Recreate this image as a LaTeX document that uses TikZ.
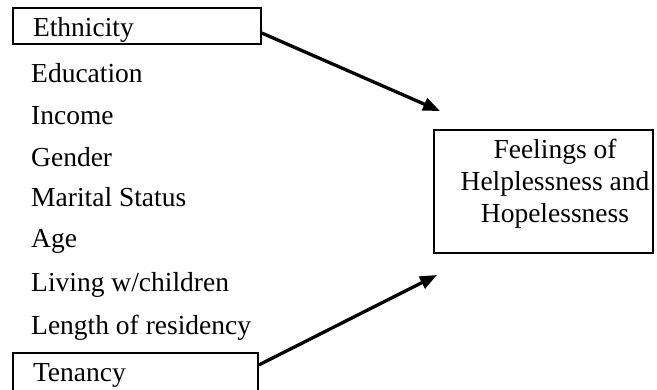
\documentclass[tikz,border=0pt]{standalone}
\usepackage{fontspec}
\setmainfont{Liberation Serif}
\usetikzlibrary{arrows.meta}
\begin{document}
\begin{tikzpicture}[x=1pt,y=-1pt,
  every node/.style={font=\fontsize{27.5}{32}\selectfont},
  item/.style={anchor=base west, inner sep=0pt},
  varbox/.style={draw, line width=1.5pt, inner xsep=20pt, inner ysep=0pt,
    align=left, text depth=0pt},
  outbox/.style={draw, line width=1.6pt, minimum width=219pt, minimum height=123pt, inner sep=0pt},
  arr/.style={line width=3.3pt, -{Triangle[length=17pt,width=13pt]}}
]
\useasboundingbox (0,0) rectangle (657,390);
\clip (0,0) rectangle (657,390);

% predictor with a direct path
\node[varbox, text width=208pt, minimum height=36pt, text height=22pt] (ethn) at (137,26) {Ethnicity};

% control variables
\node[item] (edu) at (31,83)  {Education};
\node[item] (inc) at (31,125) {Income};
\node[item] (gen) at (31,167) {Gender};
\node[item] (mar) at (31,207) {Marital Status};
\node[item] (age) at (31,248) {Age};
\node[item] (liv) at (31,292) {Living w/children};
\node[item] (len) at (31,335) {Length of residency};

% second predictor with a direct path
\node[varbox, text width=205pt, minimum height=40pt, text height=18pt] (ten) at (135.5,373) {Tenancy};

% outcome
\node[outbox] (out) at (543.5,191.5) {};
\node[align=center, inner sep=0pt] (outtxt) at (555,184)
  {Feelings of\\Helplessness and\\Hopelessness};

\coordinate (tipA) at (440,111);
\coordinate (tipB) at (437,275);

\draw[arr] ([yshift=-7pt]ethn.east) -- (tipA);
\draw[arr] ([yshift=8pt]ten.east) -- (tipB);
\end{tikzpicture}
\end{document}
